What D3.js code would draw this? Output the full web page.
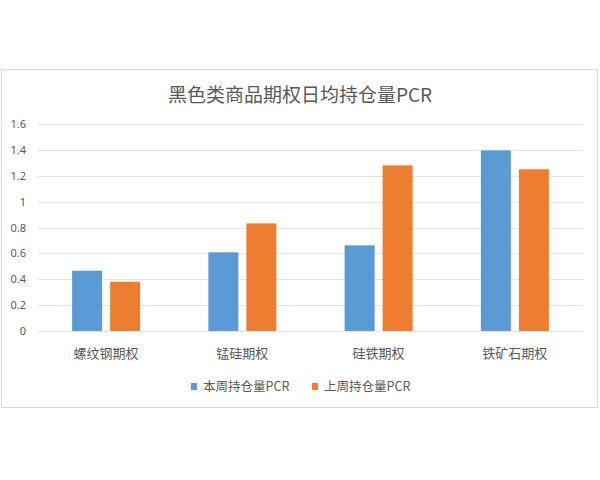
<!DOCTYPE html>
<html><head><meta charset="utf-8">
<script src="https://cdn.jsdelivr.net/npm/d3@7"></script>
<style>body{margin:0;background:#fff;}</style>
</head><body>
<svg id="c" width="600" height="480"></svg>
<script>
const categories = ["螺纹钢期权", "锰硅期权", "硅铁期权", "铁矿石期权"];
const seriesNames = ["本周持仓量PCR", "上周持仓量PCR"];
const thisWeek = [0.466, 0.608, 0.662, 1.396];
const lastWeek = [0.381, 0.832, 1.28, 1.25];
const yTicks = [0, 0.2, 0.4, 0.6, 0.8, 1, 1.2, 1.4, 1.6];
const colors = ["#5B9BD5", "#ED7D31"];
const title = "黑色类商品期权日均持仓量PCR";

const svg = d3.select("#c");
const txt = "#595959";
const cjk = "'Noto Sans CJK SC', 'Noto Sans', sans-serif";

svg.append("rect").attr("x", 1.5).attr("y", 69.5).attr("width", 596).attr("height", 338)
  .attr("fill", "#fff").attr("stroke", "#d9d9d9");

svg.append("text").attr("x", 300).attr("y", 102).attr("text-anchor", "middle")
  .attr("font-family", cjk).attr("font-size", 19).attr("fill", txt).text(title);

const left = 38, right = 583;
const y = d3.scaleLinear().domain([0, 1.6]).range([331, 124]);
const x = d3.scaleBand().domain(categories).range([left, right]).paddingInner(0).paddingOuter(0);
const inner = d3.scaleBand().domain(seriesNames).range([x.bandwidth()/2 - 34, x.bandwidth()/2 + 34]).paddingInner(0.21);

// grid
svg.append("g").selectAll("line").data(yTicks).join("line")
  .attr("x1", left).attr("x2", right)
  .attr("y1", d => Math.round(y(d)) + 0.5).attr("y2", d => Math.round(y(d)) + 0.5)
  .attr("stroke", "#e3e3e3").attr("stroke-width", 1);

// y labels
svg.append("g").selectAll("text").data(yTicks).join("text")
  .attr("x", 26).attr("y", d => y(d) + 4).attr("text-anchor", "end")
  .attr("font-family", "'Noto Sans', sans-serif").attr("font-size", 11).attr("fill", txt)
  .text(d => d3.format("")(d));

const data = categories.map((c, i) => ({c, vals: [thisWeek[i], lastWeek[i]]}));
const g = svg.append("g");
data.forEach(d => {
  d.vals.forEach((v, j) => {
    g.append("rect")
      .attr("x", x(d.c) + inner(seriesNames[j]))
      .attr("width", inner.bandwidth())
      .attr("y", y(v)).attr("height", y(0) - y(v))
      .attr("fill", colors[j]);
  });
});

// x labels
svg.append("g").selectAll("text").data(categories).join("text")
  .attr("x", d => x(d) + x.bandwidth()/2).attr("y", 358).attr("text-anchor", "middle")
  .attr("font-family", cjk).attr("font-size", 13).attr("fill", txt).text(d => d);

// legend
const legX = [191, 312];
seriesNames.forEach((s, j) => {
  svg.append("rect").attr("x", legX[j]).attr("y", 383).attr("width", 6).attr("height", 7).attr("fill", colors[j]);
  svg.append("text").attr("x", legX[j] + 12).attr("y", 391)
    .attr("font-family", cjk).attr("font-size", 12.5).attr("fill", txt).text(s);
});
</script>
</body></html>
